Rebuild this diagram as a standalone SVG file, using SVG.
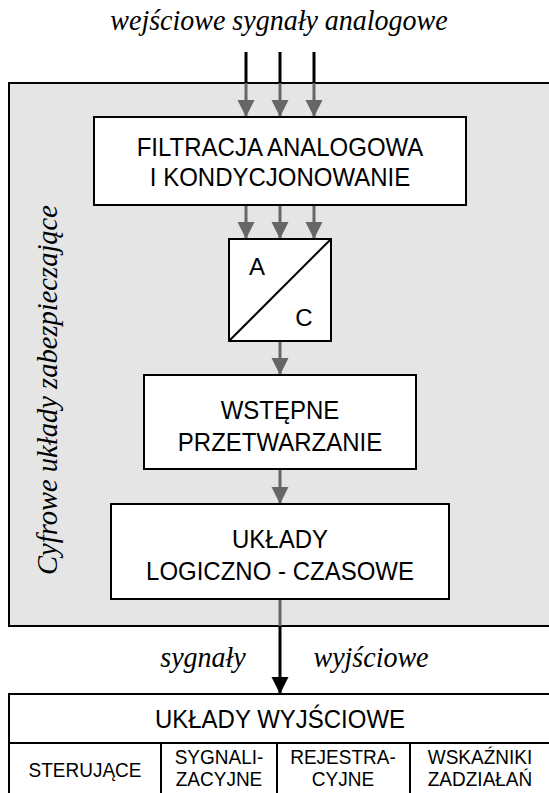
<svg xmlns="http://www.w3.org/2000/svg" width="549" height="793" viewBox="0 0 549 793">
<style>
.box{fill:#fff;stroke:#000;stroke-width:2}
.t{font-family:"Liberation Sans",Arial,sans-serif;font-size:24px;fill:#000;text-anchor:middle}
.s{font-family:"Liberation Sans",Arial,sans-serif;font-size:19px;fill:#000;text-anchor:middle}
.i{font-family:"Liberation Serif","Times New Roman",serif;font-style:italic;font-size:28px;fill:#000}
.gl{stroke:#666;stroke-width:3;fill:none}
.bl{stroke:#000;stroke-width:3;fill:none}
</style>
<defs>
<marker id="ag" markerUnits="userSpaceOnUse" markerWidth="18" markerHeight="18" viewBox="0 0 18 18" refX="17" refY="9" orient="auto"><path d="M0,0.5 L17,9 L0,17.5 Z" fill="#666"/></marker>
<marker id="ab" markerUnits="userSpaceOnUse" markerWidth="18" markerHeight="18" viewBox="0 0 18 18" refX="17" refY="9" orient="auto"><path d="M0,0.5 L17,9 L0,17.5 Z" fill="#000"/></marker>
</defs>
<rect width="549" height="793" fill="#fff"/>
<text class="i" transform="translate(279,30) scale(1,1.06)" text-anchor="middle">wejściowe sygnały analogowe</text>
<g id="panel">
<rect x="9" y="83" width="545" height="543" fill="#e5e5e5" stroke="#000" stroke-width="2"/>
<text class="i" transform="translate(57,390) rotate(-90) scale(1.02,1.06)" text-anchor="middle">Cyfrowe układy zabezpieczające</text>
</g>
<g id="connectors">
<line class="bl" x1="246" y1="52" x2="246" y2="83"/>
<line class="bl" x1="280" y1="52" x2="280" y2="83"/>
<line class="bl" x1="314" y1="52" x2="314" y2="83"/>
<line class="gl" x1="246" y1="83" x2="246" y2="117" marker-end="url(#ag)"/>
<line class="gl" x1="280" y1="83" x2="280" y2="117" marker-end="url(#ag)"/>
<line class="gl" x1="314" y1="83" x2="314" y2="117" marker-end="url(#ag)"/>
<line class="gl" x1="246" y1="205" x2="246" y2="239" marker-end="url(#ag)"/>
<line class="gl" x1="280" y1="205" x2="280" y2="239" marker-end="url(#ag)"/>
<line class="gl" x1="314" y1="205" x2="314" y2="239" marker-end="url(#ag)"/>
<line class="gl" x1="280" y1="341" x2="280" y2="375" marker-end="url(#ag)"/>
<line class="gl" x1="280" y1="469" x2="280" y2="504" marker-end="url(#ag)"/>
<line class="gl" x1="280" y1="599" x2="280" y2="626"/>
<line class="bl" x1="280" y1="626" x2="280" y2="694" marker-end="url(#ab)"/>
</g>
<g id="filtracja">
<rect class="box" x="94" y="117" width="372" height="88"/>
<text class="t" transform="translate(280,156) scale(1,1.1)">FILTRACJA ANALOGOWA</text>
<text class="t" transform="translate(280,186) scale(1,1.1)">I KONDYCJONOWANIE</text>
</g>
<g id="ac">
<rect class="box" x="229" y="239" width="102" height="102"/>
<line x1="229" y1="341" x2="331" y2="239" stroke="#000" stroke-width="2"/>
<text class="t" x="257" y="275" font-size="29">A</text>
<text class="t" x="304" y="326" font-size="29">C</text>
</g>
<g id="wstepne">
<rect class="box" x="144" y="375" width="272" height="94"/>
<text class="t" transform="translate(280,419) scale(1,1.1)">WSTĘPNE</text>
<text class="t" transform="translate(280,451) scale(1,1.1)">PRZETWARZANIE</text>
</g>
<g id="uklady">
<rect class="box" x="111" y="504" width="338" height="95"/>
<text class="t" transform="translate(280,548) scale(1,1.1)">UKŁADY</text>
<text class="t" transform="translate(280,580) scale(1,1.1)">LOGICZNO - CZASOWE</text>
</g>
<text class="i" transform="translate(203,667) scale(1,1.06)" text-anchor="middle">sygnały</text>
<text class="i" transform="translate(371,667) scale(1,1.06)" text-anchor="middle">wyjściowe</text>
<g id="wyjsciowe">
<rect class="box" x="9" y="694" width="545" height="110"/>
<line x1="9" y1="743" x2="554" y2="743" stroke="#000" stroke-width="2"/>
<line x1="161" y1="743" x2="161" y2="793" stroke="#000" stroke-width="2"/>
<line x1="277" y1="743" x2="277" y2="793" stroke="#000" stroke-width="2"/>
<line x1="410" y1="743" x2="410" y2="793" stroke="#000" stroke-width="2"/>
<text class="t" transform="translate(280,728) scale(1,1.1)">UKŁADY WYJŚCIOWE</text>
<text class="s" transform="translate(85,777) scale(1,1.1)">STERUJĄCE</text>
<text class="s" transform="translate(219,764) scale(1,1.1)">SYGNALI-</text>
<text class="s" transform="translate(219,786) scale(1,1.1)">ZACYJNE</text>
<text class="s" transform="translate(343,764) scale(1,1.1)">REJESTRA-</text>
<text class="s" transform="translate(343,786) scale(1,1.1)">CYJNE</text>
<text class="s" transform="translate(480,764) scale(1,1.1)">WSKAŹNIKI</text>
<text class="s" transform="translate(480,786) scale(1,1.1)">ZADZIAŁAŃ</text>
</g>
</svg>
